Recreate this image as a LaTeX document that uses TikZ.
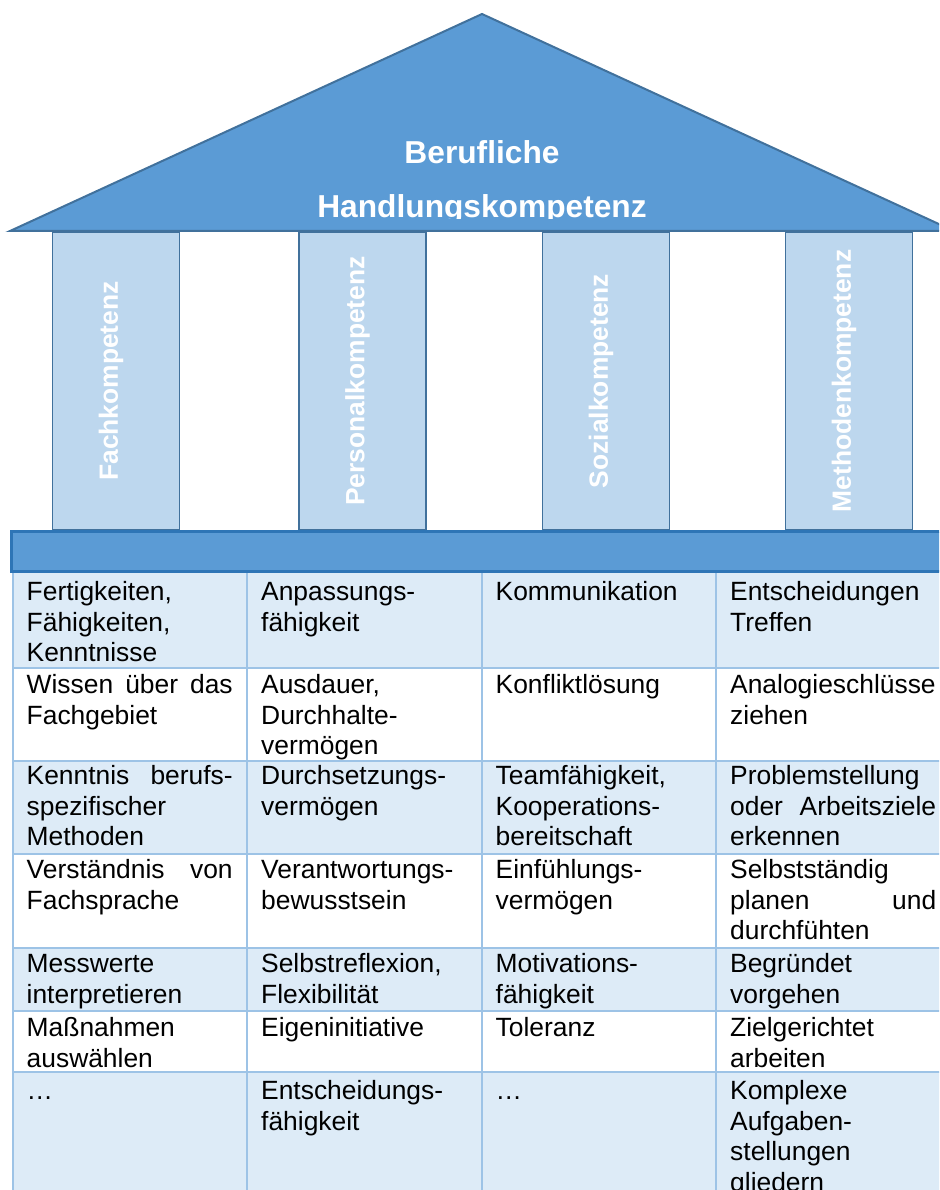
\documentclass[tikz,border=0pt]{standalone}
\usepackage{fontspec}
\setmainfont{Liberation Sans}
\definecolor{roofblue}{HTML}{5B9BD5}
\definecolor{roofedge}{HTML}{41719C}
\definecolor{baseedge}{HTML}{2E75B6}
\definecolor{pillarfill}{HTML}{BDD7EE}
\definecolor{rowfill}{HTML}{DDEBF7}
\definecolor{gridblue}{HTML}{9DC3E6}

\begin{document}
\begin{tikzpicture}[
    x=1pt, y=-1pt,
    roofshape/.style={fill=roofblue, draw=roofedge, line width=2pt},
    rooftext/.style={text=white, align=center, inner sep=0pt, font=\fontsize{31.7}{54}\selectfont\bfseries},
    pillarbox/.style={rectangle, draw=roofedge, fill=pillarfill, line width=1.5pt, minimum width=127pt, minimum height=297pt, inner sep=0pt},
    pillartext/.style={rotate=90, text=white, inner sep=0pt, font=\fontsize{26.4}{30}\selectfont\bfseries},
    basebar/.style={fill=roofblue, draw=baseedge, line width=3pt},
    lightrow/.style={fill=rowfill},
    gridline/.style={draw=gridblue, line width=2pt},
    celltext/.style={anchor=north west, inner sep=0pt, text width=206pt, align=left, font=\fontsize{26.4}{30.5}\selectfont, execute at begin node=\strut}
]
    \useasboundingbox (0,0) rectangle (939,1190);
    \clip (0,0) rectangle (939,1190);

    % pillars
    \node (fachpillar) [pillarbox] at (116,381) {};
    \node (personalpillar) [pillarbox] at (362.5,381) {};
    \node (sozialpillar) [pillarbox] at (606,381) {};
    \node (methodenpillar) [pillarbox] at (849,381) {};
    \node (fachlabel) [pillartext] at ([xshift=-5pt]fachpillar.center) {Fachkompetenz};
    \node (personallabel) [pillartext] at ([xshift=-5pt]personalpillar.center) {Personalkompetenz};
    \node (soziallabel) [pillartext] at ([xshift=-5pt]sozialpillar.center) {Sozialkompetenz};
    \node (methodenlabel) [pillartext] at ([xshift=-5pt]methodenpillar.center) {Methodenkompetenz};

    % roof
    \draw[roofshape] (10,231) -- (482,14) -- (954,231) -- cycle;
    \begin{scope}
        \clip (0,0) rectangle (939,218.5);
        \node (roofname) [rooftext, anchor=north] at (482,140.3) {Berufliche\\Handlungskompetenz};
    \end{scope}

    % table rows and grid
    \fill[lightrow] (12.5,573) rectangle (960,668);
    \fill[lightrow] (12.5,760.5) rectangle (960,854);
    \fill[lightrow] (12.5,947.5) rectangle (960,1010.5);
    \fill[lightrow] (12.5,1072) rectangle (960,1195);
    \draw[gridline] (12.5,668) -- (960,668);
    \draw[gridline] (12.5,760.5) -- (960,760.5);
    \draw[gridline] (12.5,854) -- (960,854);
    \draw[gridline] (12.5,947.5) -- (960,947.5);
    \draw[gridline] (12.5,1010.5) -- (960,1010.5);
    \draw[gridline] (12.5,1072) -- (960,1072);
    \draw[gridline] (12.5,573) -- (12.5,1195);
    \draw[gridline] (247,573) -- (247,1195);
    \draw[gridline] (481.5,573) -- (481.5,1195);
    \draw[gridline] (716,573) -- (716,1195);

    % base
    \draw[basebar] (11.5,531.5) rectangle (965,571.5);

    % Fachkompetenz
    \node (fach1) [celltext] at (26.5,579) {Fertigkeiten,\\Fähigkeiten,\\Kenntnisse};
    \node (fach2) [celltext] at (26.5,672) {Wissen\hfill über\hfill das\\Fachgebiet};
    \node (fach3) [celltext] at (26.5,763) {Kenntnis\hfill berufs-\\spezifischer\\Methoden};
    \node (fach4) [celltext] at (26.5,857) {Verständnis\hfill von\\Fachsprache};
    \node (fach5) [celltext] at (26.5,951) {Messwerte\\interpretieren};
    \node (fach6) [celltext] at (26.5,1015) {Maßnahmen\\auswählen};
    \node (fach7) [celltext] at (26.5,1078) {…};

    % Personalkompetenz
    \node (personal1) [celltext] at (261,579) {Anpassungs-\\fähigkeit};
    \node (personal2) [celltext] at (261,672) {Ausdauer,\\Durchhalte-\\vermögen};
    \node (personal3) [celltext] at (261,763) {Durchsetzungs-\\vermögen};
    \node (personal4) [celltext] at (261,857) {Verantwortungs-\\bewusstsein};
    \node (personal5) [celltext] at (261,951) {Selbstreflexion,\\Flexibilität};
    \node (personal6) [celltext] at (261,1015) {Eigeninitiative};
    \node (personal7) [celltext] at (261,1078) {Entscheidungs-\\fähigkeit};

    % Sozialkompetenz
    \node (sozial1) [celltext] at (495.5,579) {Kommunikation};
    \node (sozial2) [celltext] at (495.5,672) {Konfliktlösung};
    \node (sozial3) [celltext] at (495.5,763) {Teamfähigkeit,\\Kooperations-\\bereitschaft};
    \node (sozial4) [celltext] at (495.5,857) {Einfühlungs-\\vermögen};
    \node (sozial5) [celltext] at (495.5,951) {Motivations-\\fähigkeit};
    \node (sozial6) [celltext] at (495.5,1015) {Toleranz};
    \node (sozial7) [celltext] at (495.5,1078) {…};

    % Methodenkompetenz
    \node (methoden1) [celltext] at (730,579) {Entscheidungen\\Treffen};
    \node (methoden2) [celltext] at (730,672) {Analogieschlüsse\\ziehen};
    \node (methoden3) [celltext] at (730,763) {Problemstellung\\oder\hfill Arbeitsziele\\erkennen};
    \node (methoden4) [celltext] at (730,857) {Selbstständig\\planen\hfill und\\durchfühten};
    \node (methoden5) [celltext] at (730,951) {Begründet\\vorgehen};
    \node (methoden6) [celltext] at (730,1015) {Zielgerichtet\\arbeiten};
    \node (methoden7) [celltext] at (730,1078) {Komplexe\\Aufgaben-\\stellungen\\gliedern};

\end{tikzpicture}
\end{document}
